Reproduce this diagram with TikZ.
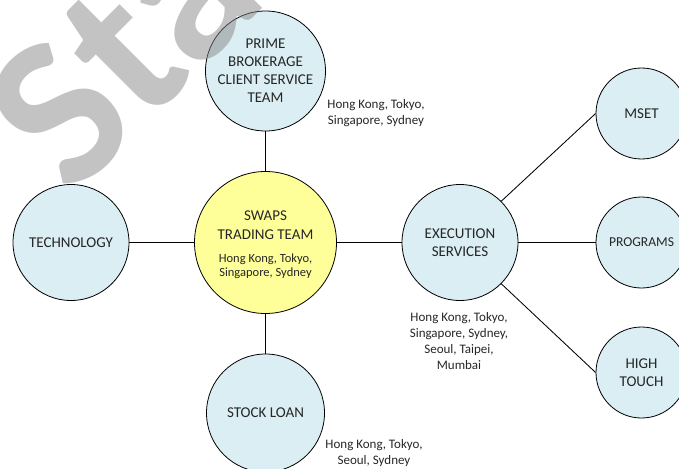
\documentclass[tikz,border=0pt]{standalone}
\usepackage{fontspec}
\setmainfont{Carlito}
\definecolor{paleblue}{RGB}{218,238,243}
\definecolor{paleyellow}{RGB}{255,255,153}
\definecolor{inkgrey}{RGB}{38,38,38}
\begin{document}
\begin{tikzpicture}[x=1pt,y=-1pt,
  unit/.style={circle, draw=black, line width=0.8pt, fill=paleblue,
    minimum size=#1, inner sep=0pt, align=center, text=inkgrey,
    font=\fontsize{15}{18}\selectfont},
  hub/.style={circle, draw=black, line width=0.8pt, fill=paleyellow,
    minimum size=#1, inner sep=0pt},
  title/.style={align=center, text=inkgrey, inner sep=0pt,
    font=\fontsize{15}{19}\selectfont},
  places/.style={align=center, text=inkgrey, inner sep=0pt,
    font=\fontsize{13}{16}\selectfont},
  innerplaces/.style={align=center, text=inkgrey, inner sep=0pt,
    font=\fontsize{12.5}{14.5}\selectfont},
  link/.style={draw=black, line width=0.85pt},
  stamp/.style={text=black!47, opacity=0.5, inner sep=0pt,
    font=\bfseries\fontsize{215}{215}\selectfont}
]
\useasboundingbox (0,0) rectangle (679,468);

% teams
\node[unit=120] (pb) at (265.5,71) {PRIME\\BROKERAGE\\CLIENT SERVICE\\TEAM};
\node[hub=142] (swaps) at (265.5,242.5) {};
\node[title] (swapsname) at (265.5,225) {SWAPS\\TRADING TEAM};
\node[innerplaces] (swapsplaces) at (265.5,266) {Hong Kong, Tokyo,\\Singapore, Sydney};
\node[unit=116] (tech) at (71,242.5) {TECHNOLOGY};
\node[unit=116] (exec) at (460,242.5) {EXECUTION\\SERVICES};
\node[unit=118] (stock) at (265.5,413) {STOCK LOAN};
\node[unit=91] (mset) at (641.5,113.5) {MSET};
\node[unit=91, font=\fontsize{13.6}{16}\selectfont] (prog) at (641.5,242.5) {PROGRAMS};
\node[unit=91] (high) at (641.5,372.5) {HIGH\\TOUCH};

% locations
\node[places] (pbplaces) at (376,113) {Hong Kong, Tokyo,\\Singapore, Sydney};
\node[places] (execplaces) at (459,341) {Hong Kong, Tokyo,\\Singapore, Sydney,\\Seoul, Taipei,\\Mumbai};
\node[places] (stockplaces) at (374,453) {Hong Kong, Tokyo,\\Seoul, Sydney};

% links
\draw[link] (pb.south) -- (swaps.north);
\draw[link] (swaps.south) -- (stock.north);
\draw[link] (tech.east) -- (swaps.west);
\draw[link] (swaps.east) -- (exec.west);
\draw[link] (exec.north east) -- (mset.west);
\draw[link] (exec.east) -- (prog.west);
\draw[link] (exec.south east) -- (high.west);

% watermark
\begin{scope}
  \clip (0,0) rectangle (679,468);
  \node[stamp, rotate=45, anchor=base west] (mark) at (72,199) {Sta};
\end{scope}
\end{tikzpicture}
\end{document}
